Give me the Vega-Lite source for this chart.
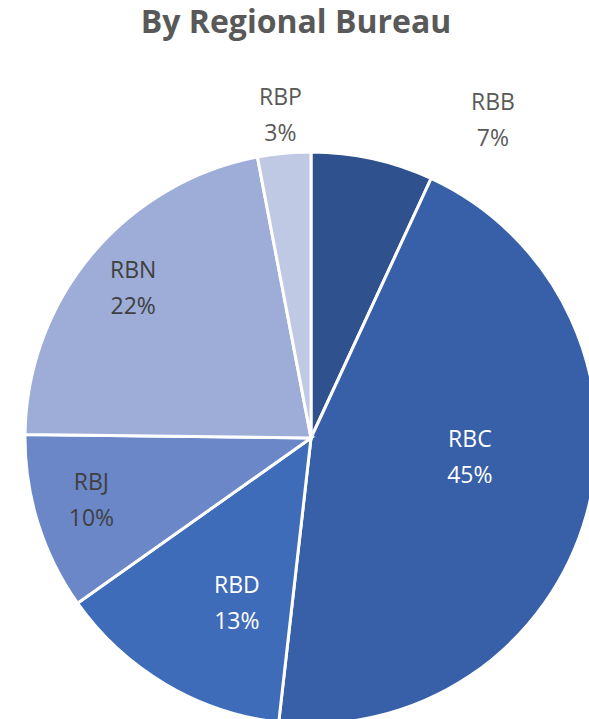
{
  "$schema": "https://vega.github.io/schema/vega-lite/v6.json",
  "autosize": {"type": "none"},
  "width": 556,
  "height": 562,
  "padding": {"left": 33, "top": 157, "right": 0, "bottom": 0},
  "background": "white",
  "title": {
    "text": "By Regional Bureau",
    "font": "Open Sans",
    "fontSize": 32,
    "fontWeight": "bold",
    "color": "#595959",
    "anchor": "middle",
    "offset": 45,
    "dx": -15
  },
  "config": {"view": {"stroke": null}},
  "data": {
    "values": [
      {"bureau": "RBB", "value": 6.9, "pct": "7%"},
      {"bureau": "RBC", "value": 44.9, "pct": "45%"},
      {"bureau": "RBD", "value": 13.4, "pct": "13%"},
      {"bureau": "RBJ", "value": 10.0, "pct": "10%"},
      {"bureau": "RBN", "value": 21.8, "pct": "22%"},
      {"bureau": "RBP", "value": 3.0, "pct": "3%"}
    ]
  },
  "transform": [{"calculate": "datum.bureau + '\\n' + datum.pct", "as": "label"}],
  "encoding": {
    "theta": {"field": "value", "type": "quantitative", "stack": true},
    "order": {"field": "bureau", "type": "nominal", "sort": "ascending"}
  },
  "layer": [
    {
      "mark": {"type": "arc", "radius": 286, "stroke": "white", "strokeWidth": 3},
      "encoding": {
        "color": {
          "field": "bureau",
          "type": "nominal",
          "scale": {
            "domain": ["RBB", "RBC", "RBD", "RBJ", "RBN", "RBP"],
            "range": ["#2F528F", "#3860A8", "#3F6CB9", "#6B87C8", "#9DADD7", "#C0C9E4"]
          },
          "legend": null
        }
      }
    },
    {
      "mark": {"type": "text", "radius": 165, "dy": -43, "font": "Open Sans", "fontSize": 23, "lineBreak": "\n", "lineHeight": 36, "color": "white", "align": "center", "baseline": "middle"},
      "encoding": {"text": {"condition": {"test": "datum.bureau === 'RBC'", "field": "label"}, "value": ""}}
    },
    {
      "mark": {"type": "text", "radius": 185, "dx": 20, "dy": -11, "font": "Open Sans", "fontSize": 23, "lineBreak": "\n", "lineHeight": 36, "color": "white", "align": "center", "baseline": "middle"},
      "encoding": {"text": {"condition": {"test": "datum.bureau === 'RBD'", "field": "label"}, "value": ""}}
    },
    {
      "mark": {"type": "text", "radius": 230, "dy": -23, "font": "Open Sans", "fontSize": 23, "lineBreak": "\n", "lineHeight": 36, "color": "#404040", "align": "center", "baseline": "middle"},
      "encoding": {"text": {"condition": {"test": "datum.bureau === 'RBJ'", "field": "label"}, "value": ""}}
    },
    {
      "mark": {"type": "text", "radius": 232, "dy": -18, "font": "Open Sans", "fontSize": 23, "lineBreak": "\n", "lineHeight": 36, "color": "#404040", "align": "center", "baseline": "middle"},
      "encoding": {"text": {"condition": {"test": "datum.bureau === 'RBN'", "field": "label"}, "value": ""}}
    },
    {
      "mark": {"type": "text", "radius": 325, "dy": -16, "font": "Open Sans", "fontSize": 23, "lineBreak": "\n", "lineHeight": 36, "color": "#595959", "align": "center", "baseline": "middle"},
      "encoding": {"text": {"condition": {"test": "datum.bureau === 'RBP'", "field": "label"}, "value": ""}}
    },
    {
      "mark": {"type": "text", "radius": 325, "dx": 112, "dy": -18, "font": "Open Sans", "fontSize": 23, "lineBreak": "\n", "lineHeight": 36, "color": "#595959", "align": "center", "baseline": "middle"},
      "encoding": {"text": {"condition": {"test": "datum.bureau === 'RBB'", "field": "label"}, "value": ""}}
    }
  ]
}
